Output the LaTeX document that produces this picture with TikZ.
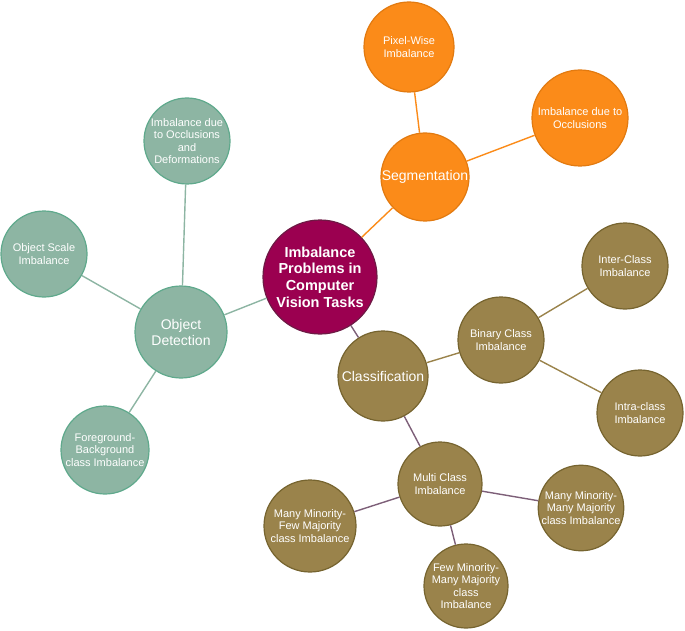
\documentclass[tikz,border=0pt]{standalone}
\usepackage{fontspec}
\setmainfont{Liberation Sans}
\definecolor{orfill}{HTML}{FB8B19}
\definecolor{ordraw}{HTML}{E27A10}
\definecolor{tefill}{HTML}{8DB5A3}
\definecolor{tedraw}{HTML}{5FA98C}
\definecolor{olfill}{HTML}{9A834B}
\definecolor{oldraw}{HTML}{76642F}
\definecolor{crfill}{HTML}{9B0050}
\definecolor{crdraw}{HTML}{6E1A45}
\definecolor{purp}{HTML}{7D5F78}
\tikzset{
  bub/.style={circle, inner sep=0pt, line width=1.2pt, text=white, align=center, font=\fontsize{11}{12.5}\selectfont},
  orb/.style={bub, fill=orfill, draw=ordraw},
  teb/.style={bub, fill=tefill, draw=tedraw},
  olb/.style={bub, fill=olfill, draw=oldraw},
  big/.style={font=\fontsize{14}{16}\selectfont},
  orl/.style={draw=orfill, line width=1.4pt},
  tel/.style={draw=tefill, line width=1.4pt},
  oll/.style={draw=olfill, line width=1.4pt},
  pul/.style={draw=purp, line width=1.4pt},
}
\begin{document}
\begin{tikzpicture}[x=1pt,y=-1pt]
\useasboundingbox (0,0) rectangle (685,631);
% nodes
\node[bub, fill=crfill, draw=crdraw, minimum size=114pt, font=\fontsize{14.5}{16.6}\selectfont\bfseries] (c) at (320,277) {Imbalance\\Problems in\\Computer\\Vision Tasks};
\node[orb, big, minimum size=88pt] (seg) at (425,177) {Segmentation};
\node[orb, minimum size=90pt] (pw) at (409,47) {Pixel-Wise\\Imbalance};
\node[orb, minimum size=96pt] (occ) at (580,118) {Imbalance due to\\Occlusions};
\node[teb, big, minimum size=92pt] (od) at (181,332) {Object\\Detection};
\node[teb, minimum size=86pt] (ocd) at (187,141) {Imbalance due\\to Occlusions\\and\\Deformations};
\node[teb, minimum size=86pt] (osi) at (44,254) {Object Scale\\Imbalance};
\node[teb, minimum size=88pt] (fb) at (105,450) {Foreground-\\Background\\class Imbalance};
\node[olb, big, minimum size=90pt] (cls) at (383,376) {Classification};
\node[olb, minimum size=86pt] (bin) at (501,340) {Binary Class\\Imbalance};
\node[olb, minimum size=86pt] (inter) at (625,266) {Inter-Class\\Imbalance};
\node[olb, minimum size=86pt] (intra) at (640,413) {Intra-class\\Imbalance};
\node[olb, minimum size=84pt] (mc) at (440,484) {Multi Class\\Imbalance};
\node[olb, minimum size=92pt] (mmf) at (310,526) {Many Minority-\\Few Majority\\class Imbalance};
\node[olb, minimum size=84pt] (mmm) at (581,508) {Many Minority-\\Many Majority\\class Imbalance};
\node[olb, minimum size=84pt] (fmm) at (466,586) {Few Minority-\\Many Majority\\class\\Imbalance};
% connectors
\path[orl] (c) -- (seg);
\path[orl] (seg) -- (pw);
\path[orl] (seg) -- (occ);
\path[tel] (c) -- (od);
\path[tel] (od) -- (ocd);
\path[tel] (od) -- (osi);
\path[tel] (od) -- (fb);
\path[pul] (c) -- (cls);
\path[oll] (cls) -- (bin);
\path[oll] (bin) -- (inter);
\path[oll] (bin) -- (intra);
\path[pul] (cls) -- (mc);
\path[pul] (mc) -- (mmf);
\path[pul] (mc) -- (mmm);
\path[pul] (mc) -- (fmm);
\end{tikzpicture}
\end{document}
